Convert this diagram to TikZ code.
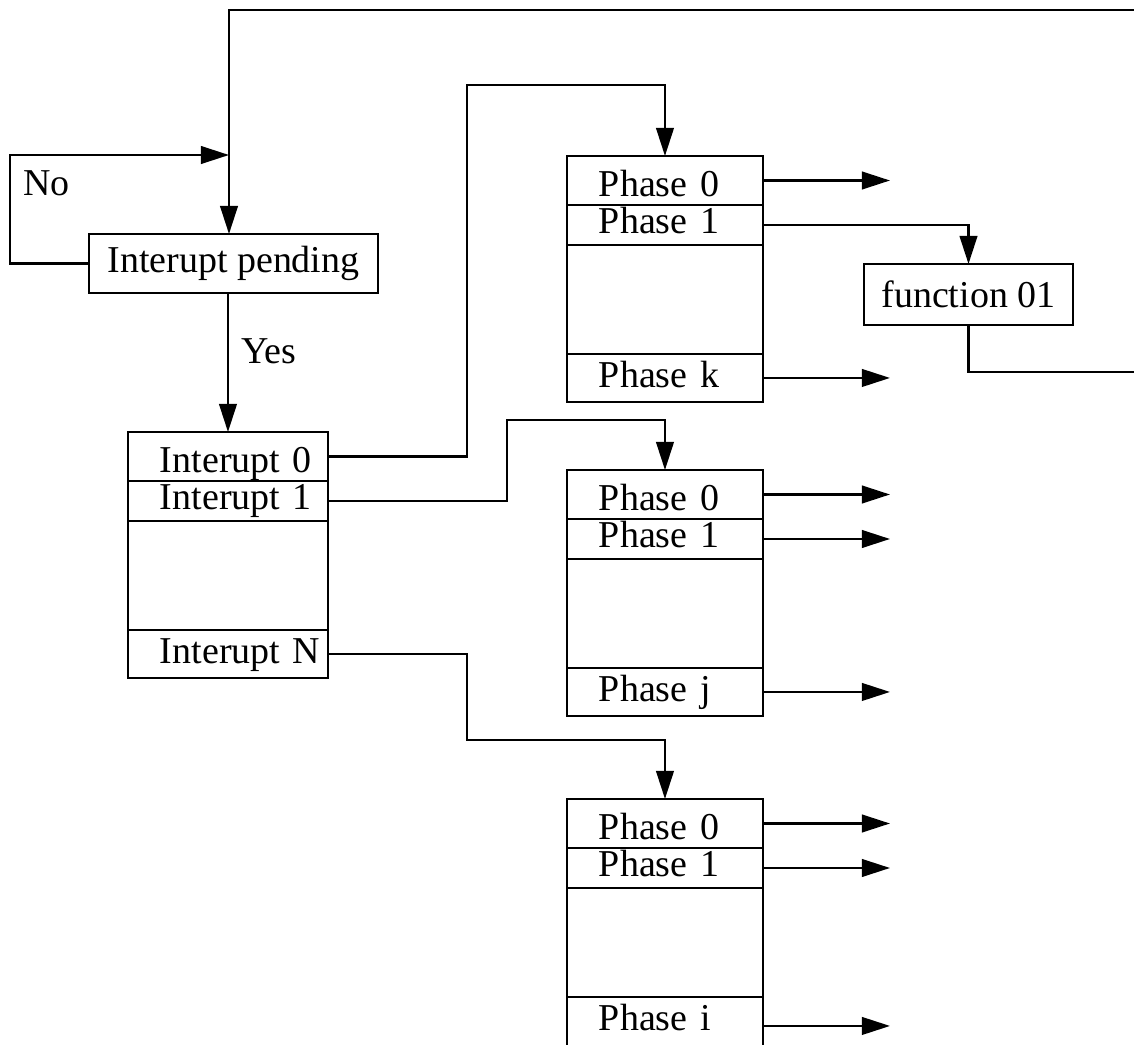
\documentclass[tikz,border=0pt]{standalone}
\usepackage{fontspec}
\setmainfont{Liberation Serif}
\usepackage{tikz}
\usetikzlibrary{arrows.meta,positioning}

\begin{document}
\begin{tikzpicture}[
  x=0.02cm, y=-0.02cm,
  line width=1.35pt,
  >={Triangle[length=16pt,width=10pt]},
  every node/.style={font=\fontsize{21.6pt}{26pt}\selectfont},
  plain/.style={draw, inner sep=0pt, outer sep=0pt},
  cell/.style={draw, inner sep=0pt, outer sep=0pt, text width=#1, align=left,
    execute at begin node={\hspace*{0.64cm}}},
  rowa/.style={text height=0.82cm, text depth=0.16cm},
  rowb/.style={text height=0.58cm, text depth=0.22cm},
  rowgap/.style={minimum height=2.18cm},
  rowz/.style={text height=0.68cm, text depth=0.28cm},
  tag/.style={inner sep=0pt, anchor=base west},
]
  \useasboundingbox (0,0) rectangle (1134,1045);

  % polling loop
  \node[plain, minimum width=5.78cm, minimum height=1.18cm] (pend) at (233.5,263.5) {Interupt pending};
  \coordinate (topl) at (229,10);
  \coordinate (topr) at (1134,10);
  \coordinate (merge) at (229,155);
  \draw (topr) -- (topl) -- (merge);
  \draw[->] (merge) -- (merge |- pend.north);
  \draw[->] (pend.west) -- ++(-79,0) |- (merge);
  \node[tag] (no) at (22,195) {No};

  % interrupt table
  \node[cell=4cm, rowa, anchor=north west] (i0) at (128,432) {Interupt 0};
  \node[cell=4cm, rowb, below=0pt of i0] (i1) {Interupt 1};
  \node[cell=4cm, rowgap, below=0pt of i1] (igap) {};
  \node[cell=4cm, rowz, below=0pt of igap] (iN) {Interupt N};

  \draw[->] (pend.south -| i0.north) -- (i0.north);
  \node[tag] (yes) at (240,363) {Yes};

  % phase tables
  \node[cell=3.92cm, rowa, anchor=north west] (pa0) at (567,156) {Phase 0};
  \node[cell=3.92cm, rowb, below=0pt of pa0] (pa1) {Phase 1};
  \node[cell=3.92cm, rowgap, below=0pt of pa1] (pagap) {};
  \node[cell=3.92cm, rowz, below=0pt of pagap] (pk) {Phase k};

  \node[cell=3.92cm, rowa, anchor=north west] (pb0) at (567,470) {Phase 0};
  \node[cell=3.92cm, rowb, below=0pt of pb0] (pb1) {Phase 1};
  \node[cell=3.92cm, rowgap, below=0pt of pb1] (pbgap) {};
  \node[cell=3.92cm, rowz, below=0pt of pbgap] (pj) {Phase j};

  \node[cell=3.92cm, rowa, anchor=north west] (pc0) at (567,799) {Phase 0};
  \node[cell=3.92cm, rowb, below=0pt of pc0] (pc1) {Phase 1};
  \node[cell=3.92cm, rowgap, below=0pt of pc1] (pcgap) {};
  \node[cell=3.92cm, rowz, text depth=0.48cm, below=0pt of pcgap] (pi) {Phase i};

  \draw[->] (i0.east) -| (467,85) -| (pa0.north);
  \draw[->] (i1.east) -| (507,420) -| (pb0.north);
  \draw[->] (iN.east) -| (467,740) -| (pc0.north);

  % outgoing phases
  \coordinate (out) at (890,0);
  \foreach \c in {pa0,pk,pb0,pb1,pj,pc0,pc1,pi}
    \draw[->] (\c.east) -- (\c.east -| out);

  % handler
  \node[plain, minimum width=4.18cm, minimum height=1.22cm] (fn) at (968.5,294.5) {function 01};
  \coordinate (fnout) at (1134,372);
  \draw[->] (pa1.east) -| (fn.north);
  \draw (fn.south) |- (fnout);
\end{tikzpicture}
\end{document}
